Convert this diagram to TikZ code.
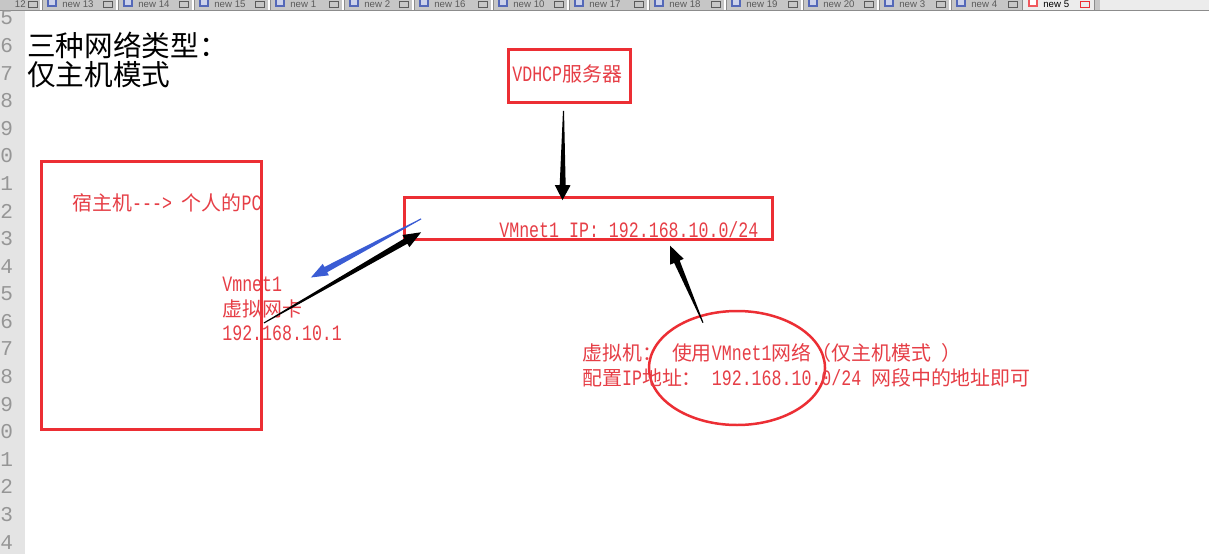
\documentclass[tikz,border=0pt]{standalone}
\usepackage{fontspec}
\setmainfont{Liberation Sans}
\newfontfamily\cjk{Noto Sans CJK SC}
\newfontfamily\asc[FakeStretch=0.756]{Liberation Mono}
\newfontfamily\gutterfont{Liberation Mono}
\usetikzlibrary{calc,fit,shapes.geometric}

\definecolor{boxred}{RGB}{236,46,52}
\definecolor{textred}{RGB}{230,62,70}
\definecolor{arrowblue}{RGB}{58,92,212}
\definecolor{guttergrey}{RGB}{228,228,228}
\definecolor{numgrey}{RGB}{150,150,150}
\definecolor{tabgrey}{RGB}{198,198,198}
\definecolor{tablight}{RGB}{236,236,236}
\definecolor{tabline}{RGB}{140,140,140}
\definecolor{tabtext}{RGB}{90,90,90}
\definecolor{tabicon}{RGB}{84,104,184}

% CJK run inside a red label
\newcommand\zh[1]{{\fontsize{11.34pt}{14pt}\cjk #1}}
% tapered arrow: tail, tip, colour, head length, head half width
\newcommand\taperarrow[5]{%
  \coordinate (hb) at ($(#2)!#4!(#1)$);
  \fill[#3] ($(#1)!0.3pt!90:(#2)$) -- ($(hb)!1.7pt!90:(#2)$) -- ($(hb)!#5!90:(#2)$) -- (#2)
    -- ($(hb)!#5!-90:(#2)$) -- ($(hb)!1.7pt!-90:(#2)$) -- ($(#1)!0.3pt!-90:(#2)$) -- cycle;
}

\tikzset{
  redbox/.style={draw=boxred, line width=1.59pt, inner sep=0pt},
  redtext/.style={text=textred, anchor=base west, inner sep=0pt,
    font=\asc\fontsize{12.5pt}{14pt}\selectfont},
  heading/.style={anchor=base west, inner sep=0pt,
    font=\cjk\fontsize{16.3pt}{19pt}\selectfont},
  lineno/.style={text=numgrey, anchor=base east, inner sep=0pt,
    font=\gutterfont\fontsize{12pt}{14pt}\selectfont},
  tablabel/.style={text=tabtext, anchor=base west, inner sep=0pt,
    font=\fontsize{5.5pt}{6pt}\selectfont}
}

\begin{document}
\begin{tikzpicture}[x=0.02cm, y=-0.02cm]
    \useasboundingbox (0,0) rectangle (1209,554);
    \clip (0,0) rectangle (1209,554);
    \fill[white] (0,0) rectangle (1209,554);

    % editor chrome: tab strip
    \fill[tabgrey] (0,0) rectangle (1100,10);
    \fill[tablight] (1100,0) rectangle (1209,10);
    \fill[tablight] (1022,0) rectangle (1094,10);
    \node[tablabel, anchor=base east] (tab0) at (26,8) {12};
    \draw[tabtext, line width=0.4pt] (28,1) rectangle (37,7);
    \foreach \s/\e/\lab [count=\i] in {41/117/new 13, 117/193/new 14, 193/269/new 15,
        269/343/new 1, 343/413/new 2, 413/492/new 16, 492/568/new 10, 568/648/new 17,
        648/725/new 18, 725/802/new 19, 802/878/new 20, 878/950/new 3, 950/1022/new 4} {
      \draw[white, line width=0.6pt] (\s,0) -- (\s,10);
      \draw[tabline, line width=0.4pt] (\s+1,0) -- (\s+1,10);
      \fill[tabicon] (\s+6,0) rectangle (\s+16,7);
      \fill[tabicon!30] (\s+8,0) rectangle (\s+14,5);
      \node[tablabel] (tab\i) at (\s+21,8) {\lab};
      \draw[tabtext, line width=0.4pt] (\e-14,1) rectangle (\e-5,7);
    }
    \draw[tabline, line width=0.4pt] (1022,0) -- (1022,10) (1094,0) -- (1094,10);
    \fill[boxred!80] (1028,0) rectangle (1038,7);
    \fill[white] (1030,0) rectangle (1036,5);
    \node[tablabel, text=black] (tab14) at (1043,8) {new 5};
    \draw[boxred, line width=0.4pt] (1080,1) rectangle (1089,7);
    \draw[tabline, line width=0.8pt] (0,10.5) -- (1209,10.5);

    % editor chrome: line numbers
    \fill[guttergrey] (0,11) rectangle (25,554);
    \foreach \k in {0,...,19} {
      \pgfmathtruncatemacro\d{mod(5+\k,10)}
      \node[lineno] (ln\k) at (13.5,25+27.58*\k) {\d};
    }

    % headings
    \node[heading] (title) at (27,57) {三种网络类型：};
    \node[heading] (mode) at (27,86) {仅主机模式};

    % boxes
    \node[redbox, fit={(41.5,161.5) (261.5,429.5)}] (host) {};
    \node[redbox, fit={(508.5,49.5) (630.5,102.5)}] (dhcp) {};
    \node[redbox, fit={(404.5,197.5) (772.5,239.5)}] (vmnet) {};
    \node[draw=boxred, line width=1.42pt, ellipse, inner sep=0pt,
          minimum width=176*0.02cm, minimum height=114*0.02cm] (vmoval) at (737,368) {};

    % labels
    \node[redtext] (hostlabel) at (72,210) {\zh{宿主机}---> \zh{个人的}PC};
    \node[redtext] (vnicname) at (222,291.5) {Vmnet1};
    \node[redtext] (vnictype) at (222,316) {\zh{虚拟网卡}};
    \node[redtext] (vnicip) at (222,340.5) {192.168.10.1};
    \node[redtext] (dhcplabel) at (512,82) {VDHCP\zh{服务器}};
    \node[redtext] (vmnetlabel) at (499,237) {VMnet1 IP: 192.168.10.0/24};
    \node[redtext] (vmline1) at (582,360) {\zh{虚拟机：} \zh{使用}VMnet1\zh{网络（仅主机模式} \zh{）}};
    \node[redtext] (vmline2) at (582,385) {\zh{配置}IP\zh{地址：} 192.168.10.0/24 \zh{网段中的地址即可}};

    % arrows
    \coordinate (dhcpTail) at ($(dhcp.south)+(-6,7)$);
    \coordinate (dhcpTip) at ($(vmnet.north)+(-26,4)$);
    \coordinate (hostTail) at ($(host.east)+(1,27.5)$);
    \coordinate (hostTip) at ($(vmnet.south west)+(18,-8.6)$);
    \coordinate (blueTail) at ($(vmnet.south west)+(18,-22)$);
    \coordinate (blueTip) at ($(host.east)+(48,-18)$);
    \coordinate (vmTail) at ($(vmoval.north)+(-34,13)$);
    \coordinate (vmTip) at ($(vmnet.south)+(81.5,4.7)$);
    \taperarrow{dhcpTail}{dhcpTip}{black}{8.5pt}{4.5pt}
    \taperarrow{hostTail}{hostTip}{black}{10pt}{4pt}
    \taperarrow{blueTail}{blueTip}{arrowblue}{9.6pt}{3.7pt}
    \taperarrow{vmTail}{vmTip}{black}{10pt}{4.2pt}
\end{tikzpicture}
\end{document}
